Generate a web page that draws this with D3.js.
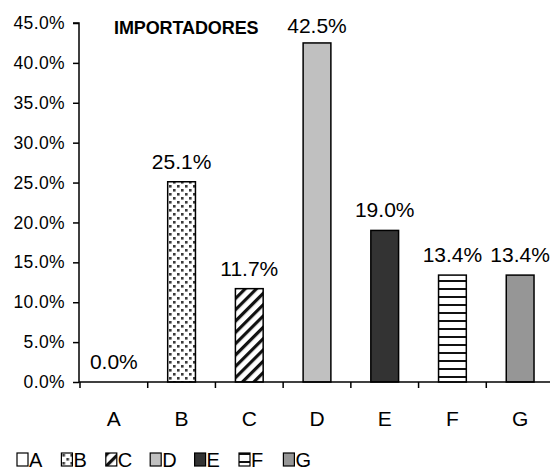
<!DOCTYPE html>
<html><head><meta charset="utf-8">
<script src="https://cdn.jsdelivr.net/npm/d3@7/dist/d3.min.js"></script>
<style>body{margin:0;background:#fff}svg{display:block;font-family:"Liberation Sans",Arial,sans-serif}</style>
</head><body>
<script>
const categories = ["A","B","C","D","E","F","G"];
const values = [0.0, 25.1, 11.7, 42.5, 19.0, 13.4, 13.4];
const yTicks = [0,5,10,15,20,25,30,35,40,45];
const title = "IMPORTADORES";
const fills = ["#ffffff","url(#pDots)","url(#pDiag)","#c0c0c0","#333333","url(#pHoriz)","#969696"];

const W=550,H=470;
const svg=d3.select("body").append("svg").attr("width",W).attr("height",H);
const defs=svg.append("defs");
const pd=defs.append("pattern").attr("id","pDots").attr("patternUnits","userSpaceOnUse").attr("width",8).attr("height",8);
pd.append("rect").attr("width",8).attr("height",8).attr("fill","#fff");
pd.append("rect").attr("x",1).attr("y",1).attr("width",2.6).attr("height",2.6).attr("fill","#3a3a3a");
pd.append("rect").attr("x",5).attr("y",5).attr("width",2.6).attr("height",2.6).attr("fill","#3a3a3a");
const pg=defs.append("pattern").attr("id","pDiag").attr("patternUnits","userSpaceOnUse").attr("width",8).attr("height",8).attr("patternTransform","rotate(45)");
pg.append("rect").attr("width",8).attr("height",8).attr("fill","#fff");
pg.append("rect").attr("x",0).attr("width",3.2).attr("height",8).attr("fill","#111");
const ph=defs.append("pattern").attr("id","pHoriz").attr("patternUnits","userSpaceOnUse").attr("width",8).attr("height",8);
ph.append("rect").attr("width",8).attr("height",8).attr("fill","#fff");
ph.append("rect").attr("y",0).attr("width",8).attr("height",2).attr("fill","#111");

const x=d3.scaleBand().domain(categories).range([80,554]).paddingInner(0.59).paddingOuter(0.295);
const y=d3.scaleLinear().domain([0,45]).range([382,23]);

svg.append("g").selectAll("rect").data(categories).join("rect")
  .attr("x",d=>x(d)).attr("width",x.bandwidth())
  .attr("y",(d,i)=>y(values[i])).attr("height",(d,i)=>y(0)-y(values[i]))
  .attr("fill",(d,i)=>fills[i]).attr("stroke","#000").attr("stroke-width",1.5);

const ya=svg.append("g").attr("transform","translate(79,0)")
  .call(d3.axisLeft(y).tickValues(yTicks).tickSize(6).tickPadding(8).tickFormat(d=>d.toFixed(1)+"%"));
ya.select(".domain").attr("d","M-6,"+y(45)+"H0V"+y(0)).attr("stroke","#000").attr("stroke-width",1.5);
ya.selectAll(".tick line").attr("stroke","#000").attr("stroke-width",1.5);
ya.selectAll("text").attr("font-size",17.5).attr("letter-spacing",0.4).attr("font-family","Liberation Sans, Arial, sans-serif").attr("fill","#000");

const xa=svg.append("g").attr("transform","translate(0,382)");
xa.append("line").attr("x1",79).attr("x2",W).attr("y1",0).attr("y2",0).attr("stroke","#000").attr("stroke-width",1.5);
xa.selectAll("line.tk").data(d3.range(categories.length)).join("line").attr("class","tk")
  .attr("x1",i=>x(categories[i])-x.step()*x.paddingInner()/2).attr("x2",i=>x(categories[i])-x.step()*x.paddingInner()/2)
  .attr("y1",0).attr("y2",6).attr("stroke","#000").attr("stroke-width",1.5);
xa.selectAll("text").data(categories).join("text")
  .attr("x",d=>x(d)+x.bandwidth()/2).attr("y",44).attr("text-anchor","middle")
  .attr("font-size",21).text(d=>d);

svg.append("g").selectAll("text").data(categories).join("text")
  .attr("x",d=>x(d)+x.bandwidth()/2).attr("y",(d,i)=>Math.max(y(values[i])-13,33))
  .attr("text-anchor","middle").attr("font-size",21).text((d,i)=>values[i].toFixed(1)+"%");

svg.append("text").attr("x",114).attr("y",34).attr("font-size",18).attr("font-weight","bold")
  .attr("letter-spacing",-0.1).text(title);

const lg=svg.append("g").attr("transform","translate(17,453)");
const items=lg.selectAll("g").data(categories).join("g").attr("transform",(d,i)=>`translate(${i*44.4},0)`);
items.append("rect").attr("width",11).attr("height",13).attr("fill",(d,i)=>fills[i]).attr("stroke","#000").attr("stroke-width",1.2);
items.append("text").attr("x",12).attr("y",14).attr("font-size",20).text(d=>d);
</script>
</body></html>
